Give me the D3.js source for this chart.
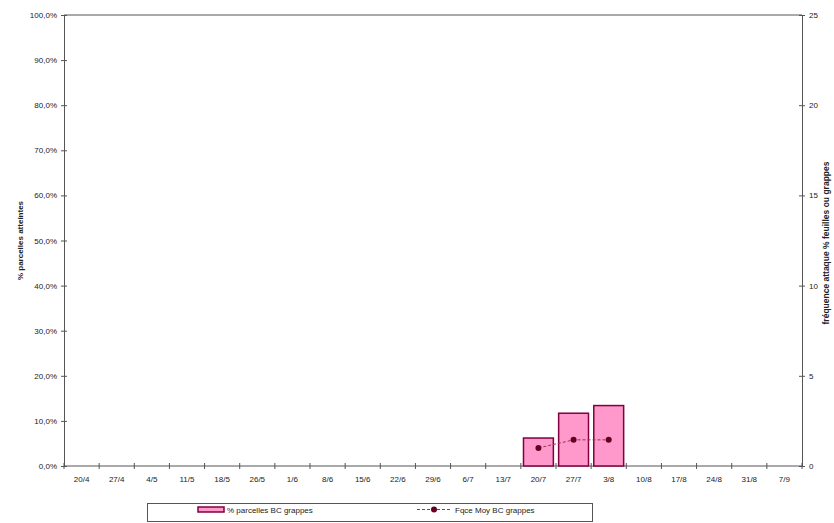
<!DOCTYPE html>
<html>
<head>
<meta charset="utf-8">
<script src="https://cdn.jsdelivr.net/npm/d3@7/dist/d3.min.js"></script>
<style>
  html, body { margin: 0; padding: 0; background: #fff; }
  text { font-family: Arial, "Liberation Sans", sans-serif; fill: #222; }
</style>
</head>
<body>
<svg id="chart" width="834" height="523"></svg>
<script>
// Weekly observation dates
const dates = ["20/4","27/4","4/5","11/5","18/5","26/5","1/6","8/6","15/6","22/6","29/6",
               "6/7","13/7","20/7","27/7","3/8","10/8","17/8","24/8","31/8","7/9"];
// % of plots affected (bars, left axis)
const plotShare = [null,null,null,null,null,null,null,null,null,null,null,
                   null,null,0.062,0.117,0.134,null,null,null,null,null];
// Mean attack frequency (line, right axis)
const meanFreq = [null,null,null,null,null,null,null,null,null,null,null,
                  null,null,1.0,1.45,1.45,null,null,null,null,null];
const leftTicks = [0,0.1,0.2,0.3,0.4,0.5,0.6,0.7,0.8,0.9,1.0];
const rightTicks = [0,5,10,15,20,25];

const svg = d3.select("#chart");
const m = {left: 64, right: 802, top: 15, bottom: 466};

const x = d3.scaleBand().domain(dates).range([m.left, m.right]).paddingInner(0.15).paddingOuter(0.075);
const xEdge = d3.scaleLinear().domain([0, dates.length]).range([m.left, m.right]);
const yL = d3.scaleLinear().domain([0, 1]).range([m.bottom, m.top]);
const yR = d3.scaleLinear().domain([0, 25]).range([m.bottom, m.top]);

const axisColor = "#555";
const fmtPct = d => d3.format(".1f")(d * 100).replace(".", ",") + "%";

// Plot frame (top edge)
svg.append("line").attr("x1", m.left).attr("x2", m.right).attr("y1", m.top).attr("y2", m.top)
  .attr("stroke", axisColor).attr("stroke-width", 1);

// Left axis
const gL = svg.append("g").attr("transform", `translate(${m.left},0)`)
  .call(d3.axisLeft(yL).tickValues(leftTicks).tickFormat(fmtPct).tickSize(3).tickPadding(4));
gL.selectAll(".tick line").attr("x2", 3).attr("x1", -3);
// Right axis
const gR = svg.append("g").attr("transform", `translate(${m.right},0)`)
  .call(d3.axisRight(yR).tickValues(rightTicks).tickSize(3).tickPadding(4));
gR.selectAll(".tick line").attr("x1", -3).attr("x2", 3);
// Bottom axis with ticks on category boundaries
const gB = svg.append("g").attr("transform", `translate(0,${m.bottom})`);
gB.append("line").attr("x1", m.left).attr("x2", m.right).attr("stroke", axisColor);
gB.selectAll("line.tk").data(d3.range(dates.length + 1)).join("line").attr("class", "tk")
  .attr("x1", d => xEdge(d)).attr("x2", d => xEdge(d)).attr("y1", -3).attr("y2", 3)
  .attr("stroke", axisColor);
gB.selectAll("text").data(dates).join("text")
  .attr("x", d => x(d) + x.bandwidth() / 2).attr("y", 16)
  .attr("text-anchor", "middle").attr("font-size", 8).text(d => d);

[gL, gR].forEach(g => {
  g.select(".domain").attr("stroke", axisColor);
  g.selectAll(".tick line").attr("stroke", axisColor);
  g.selectAll("text").attr("font-size", 8).attr("font-family", "Arial, 'Liberation Sans', sans-serif").attr("fill", "#222");
});

// Bars
svg.append("g").selectAll("rect")
  .data(dates.map((d, i) => ({d, v: plotShare[i]})).filter(o => o.v != null))
  .join("rect")
  .attr("x", o => x(o.d)).attr("width", x.bandwidth())
  .attr("y", o => yL(o.v)).attr("height", o => yL(0) - yL(o.v))
  .attr("fill", "#ff99cc").attr("stroke", "#800040").attr("stroke-width", 1.5);

// Line with markers
const pts = dates.map((d, i) => ({d, v: meanFreq[i]})).filter(o => o.v != null);
svg.append("path").datum(pts)
  .attr("d", d3.line().x(o => x(o.d) + x.bandwidth() / 2).y(o => yR(o.v)))
  .attr("fill", "none").attr("stroke", "#993355").attr("stroke-width", 1).attr("stroke-dasharray", "3,2");
svg.append("g").selectAll("circle").data(pts).join("circle")
  .attr("cx", o => x(o.d) + x.bandwidth() / 2).attr("cy", o => yR(o.v)).attr("r", 3)
  .attr("fill", "#660022");

// Axis titles
svg.append("text").attr("transform", `translate(23,${(m.top + m.bottom) / 2}) rotate(-90)`)
  .attr("text-anchor", "middle").attr("font-size", 8).attr("font-weight", "bold")
  .text("% parcelles atteintes");
svg.append("text").attr("transform", `translate(829,243) rotate(-90)`)
  .attr("text-anchor", "middle").attr("font-size", 8.5).attr("font-weight", "bold")
  .text("fréquence attaque % feuilles ou grappes");

// Legend
const lg = svg.append("g");
lg.append("rect").attr("x", 147.5).attr("y", 503.5).attr("width", 445).attr("height", 18)
  .attr("fill", "#fff").attr("stroke", "#555");
lg.append("rect").attr("x", 198).attr("y", 507).attr("width", 26).attr("height", 5)
  .attr("fill", "#ff99cc").attr("stroke", "#800040").attr("stroke-width", 1.5);
lg.append("text").attr("x", 227).attr("y", 512.5).attr("font-size", 8).text("% parcelles BC grappes");
lg.append("line").attr("x1", 417).attr("x2", 452).attr("y1", 509.5).attr("y2", 509.5)
  .attr("stroke", "#993355").attr("stroke-dasharray", "3,2");
lg.append("circle").attr("cx", 434).attr("cy", 509.5).attr("r", 3).attr("fill", "#660022");
lg.append("text").attr("x", 455).attr("y", 512.5).attr("font-size", 8).text("Fqce Moy BC grappes");
</script>
</body>
</html>
